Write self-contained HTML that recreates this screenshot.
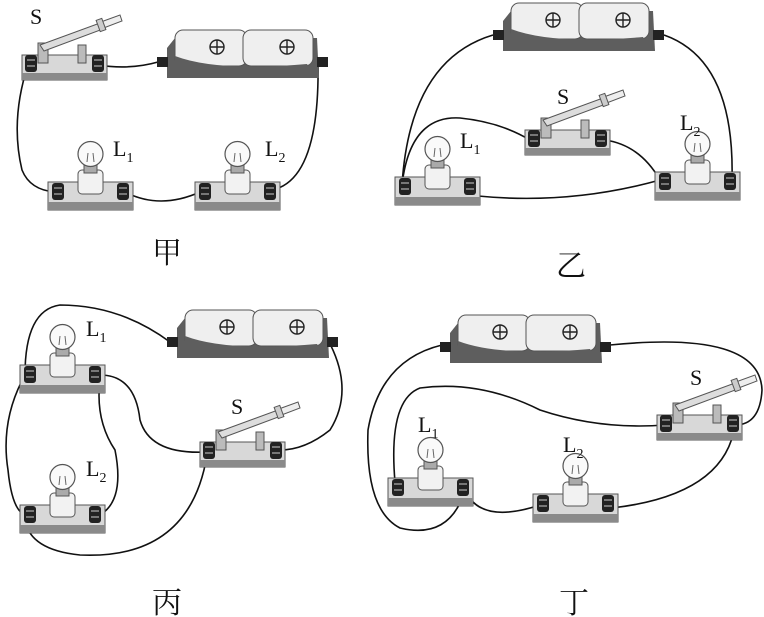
<!DOCTYPE html>
<html><head><meta charset="utf-8"><style>
html,body{margin:0;padding:0;background:#fff}
svg{display:block}
text{font-family:"Liberation Serif",serif;fill:#111}
.cn{font-family:"Liberation Serif","Noto Serif CJK SC",serif;font-size:30px}
.w{fill:none;stroke:#111;stroke-width:1.6}
</style></head><body>
<svg width="764" height="617" viewBox="0 0 764 617" xmlns="http://www.w3.org/2000/svg">
<defs>
<g id="term"><rect x="0" y="0" width="12" height="17" rx="3" fill="#222"/><rect x="2" y="4" width="8" height="2" fill="#777"/><rect x="2" y="10" width="8" height="2" fill="#777"/></g>
<g id="lamp">
<rect x="0" y="0" width="85" height="28" fill="#d8d8d8" stroke="#555"/>
<rect x="0" y="20" width="85" height="8" fill="#8a8a8a"/>
<use href="#term" x="4" y="1"/><use href="#term" x="69" y="1"/>
<rect x="30" y="-12" width="25" height="24" rx="4" fill="#f2f2f2" stroke="#555"/>
<rect x="36" y="-17" width="13" height="8" fill="#aaa" stroke="#555"/>
<circle cx="42.5" cy="-28" r="12.5" fill="#fafafa" stroke="#555" stroke-width="1.2"/>
<path d="M39 -20 L40 -29 M46 -20 L45 -29" stroke="#666" fill="none"/>
</g>
<g id="switch">
<rect x="0" y="0" width="85" height="25" fill="#d8d8d8" stroke="#555"/>
<rect x="0" y="18" width="85" height="7" fill="#8a8a8a"/>
<use href="#term" x="3" y="0"/><use href="#term" x="70" y="0"/>
<rect x="16" y="-12" width="10" height="20" fill="#bbb" stroke="#555"/>
<rect x="56" y="-10" width="8" height="18" fill="#bbb" stroke="#555"/>
<path d="M18 -10 L78 -32 L81 -26 L22 -4 Z" fill="#ddd" stroke="#555"/>
<path d="M76 -32 L98 -40 L100 -34 L79 -26 Z" fill="#eee" stroke="#555"/>
<rect x="76" y="-36" width="6" height="12" fill="#ccc" stroke="#555" transform="rotate(-20 79 -30)"/>
</g>
<g id="batt">
<path d="M10 18 L18 8 L160 8 L162 48 L10 48 Z" fill="#5e5e5e"/>
<rect x="18" y="0" width="72" height="36" rx="8" fill="#efefef" stroke="#555"/>
<rect x="86" y="0" width="70" height="36" rx="8" fill="#efefef" stroke="#555"/>
<path d="M18 26 Q60 42 150 34 L156 44 L18 44 Z" fill="#5e5e5e"/>
<circle cx="60" cy="17" r="7" fill="none" stroke="#222" stroke-width="1.4"/><path d="M53 17 H67 M60 10 V24" stroke="#222" stroke-width="1.4"/>
<circle cx="130" cy="17" r="7" fill="none" stroke="#222" stroke-width="1.4"/><path d="M123 17 H137 M130 10 V24" stroke="#222" stroke-width="1.4"/>
<rect x="0" y="27" width="11" height="10" fill="#222"/><rect x="160" y="27" width="11" height="10" fill="#222"/>
</g>
</defs>

<!-- 甲 -->
<path class="w" d="M98 65 Q130 70 158 62"/>
<path class="w" d="M28 65 Q10 120 22 170 Q30 190 55 192"/>
<path class="w" d="M125 192 Q160 210 200 192"/>
<path class="w" d="M272 190 Q320 180 318 62"/>
<use href="#switch" x="22" y="55"/>
<use href="#batt" x="157" y="30"/>
<use href="#lamp" x="48" y="182"/>
<use href="#lamp" x="195" y="182"/>
<text x="30" y="24" font-size="22">S</text>
<text x="113" y="156" font-size="22">L<tspan font-size="14" dy="6">1</tspan></text>
<text x="265" y="156" font-size="22">L<tspan font-size="14" dy="6">2</tspan></text>
<text class="cn" x="152" y="263">甲</text>

<!-- 乙 -->
<path class="w" d="M493 35 Q410 60 402 185"/>
<path class="w" d="M664 35 Q735 60 732 180"/>
<path class="w" d="M402 185 Q410 115 460 118 Q500 122 530 140"/>
<path class="w" d="M478 196 Q570 205 660 180"/>
<path class="w" d="M605 140 Q640 145 660 180"/>
<use href="#batt" x="493" y="3"/>
<use href="#switch" x="525" y="130"/>
<use href="#lamp" x="395" y="177"/>
<use href="#lamp" x="655" y="172"/>
<text x="557" y="104" font-size="22">S</text>
<text x="460" y="148" font-size="22">L<tspan font-size="14" dy="6">1</tspan></text>
<text x="680" y="130" font-size="22">L<tspan font-size="14" dy="6">2</tspan></text>
<text class="cn" x="556" y="276">乙</text>

<!-- 丙 -->
<path class="w" d="M170 342 Q120 305 60 305 Q25 310 25 375"/>
<path class="w" d="M25 375 Q0 420 8 470 Q12 510 25 515"/>
<path class="w" d="M100 375 Q135 375 140 420 Q150 455 207 452"/>
<path class="w" d="M100 380 Q95 420 115 450 Q125 500 100 515"/>
<path class="w" d="M328 340 Q355 390 330 430 Q305 450 280 450"/>
<path class="w" d="M207 455 Q190 560 80 555 Q30 550 25 520"/>
<use href="#batt" x="167" y="310"/>
<use href="#lamp" x="20" y="365"/>
<use href="#lamp" x="20" y="505"/>
<use href="#switch" x="200" y="442"/>
<text x="86" y="336" font-size="22">L<tspan font-size="14" dy="6">1</tspan></text>
<text x="231" y="414" font-size="22">S</text>
<text x="86" y="476" font-size="22">L<tspan font-size="14" dy="6">2</tspan></text>
<text class="cn" x="152" y="613">丙</text>

<!-- 丁 -->
<path class="w" d="M442 345 Q380 360 368 430 Q365 510 400 528 Q450 540 465 490"/>
<path class="w" d="M465 490 Q480 525 540 505"/>
<path class="w" d="M395 482 Q388 400 420 388 Q480 380 540 410 Q600 430 665 425"/>
<path class="w" d="M610 345 Q760 330 762 390 Q760 425 735 425"/>
<path class="w" d="M735 425 Q725 495 612 508"/>
<use href="#batt" x="440" y="315"/>
<use href="#switch" x="657" y="415"/>
<use href="#lamp" x="388" y="478"/>
<use href="#lamp" x="533" y="494"/>
<text x="418" y="432" font-size="22">L<tspan font-size="14" dy="6">1</tspan></text>
<text x="563" y="452" font-size="22">L<tspan font-size="14" dy="6">2</tspan></text>
<text x="690" y="385" font-size="22">S</text>
<text class="cn" x="559" y="613">丁</text>
</svg>
</body></html>
